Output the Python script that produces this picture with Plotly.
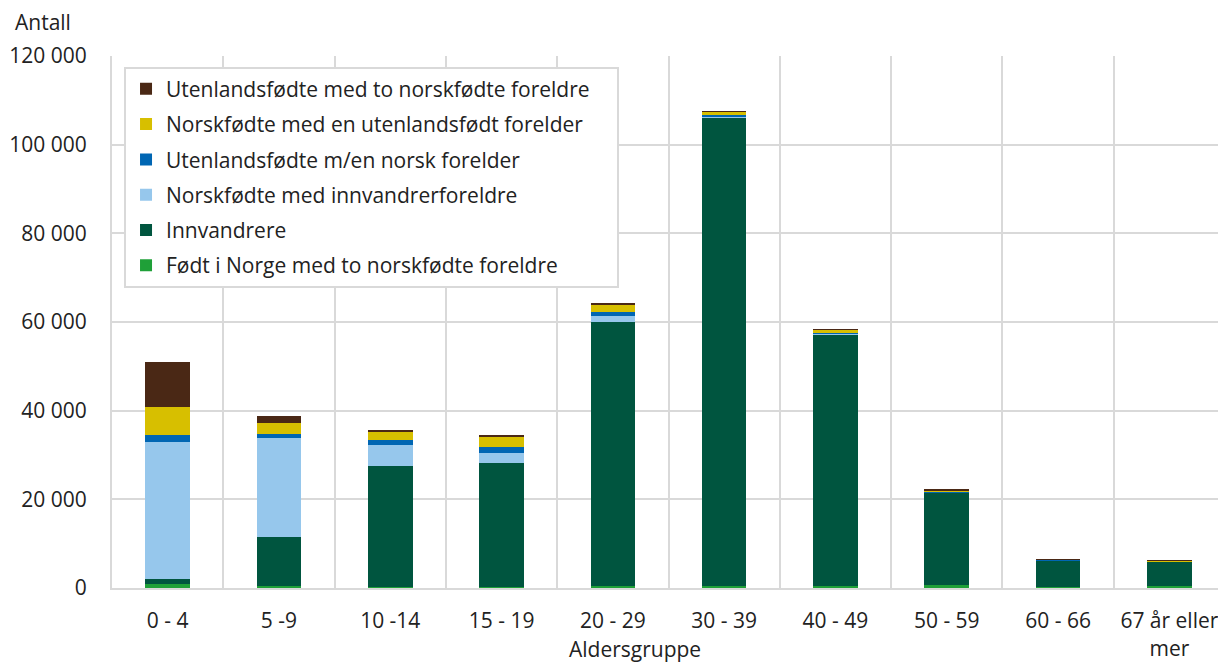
import plotly.graph_objects as go

categories = ["0 - 4", "5 -9", "10 -14", "15 - 19", "20 - 29", "30 - 39",
              "40 - 49", "50 - 59", "60 - 66", "67 år eller<br>mer"]

fodt_norge = [900, 400, 300, 300, 500, 500, 400, 600, 200, 500]
innvandrere = [1100, 11100, 27300, 27800, 59500, 105700, 56800, 20900, 5900, 5400]
norskf_innv = [31000, 22300, 4700, 2400, 1400, 200, 200, 150, 150, 50]
utenl_en_norsk = [1400, 1000, 1100, 1200, 900, 300, 200, 150, 100, 50]
norskf_en_utenl = [6500, 2400, 1800, 2500, 1600, 700, 600, 300, 100, 100]
utenl_to_norsk = [10000, 1600, 300, 300, 200, 100, 100, 50, 50, 150]

series = [
    ("Født i Norge med to norskfødte foreldre", fodt_norge, "#1fa038"),
    ("Innvandrere", innvandrere, "#00553f"),
    ("Norskfødte med innvandrerforeldre", norskf_innv, "#96c7ec"),
    ("Utenlandsfødte m/en norsk forelder", utenl_en_norsk, "#0066b3"),
    ("Norskfødte med en utenlandsfødt forelder", norskf_en_utenl, "#d7bf00"),
    ("Utenlandsfødte med to norskfødte foreldre", utenl_to_norsk, "#4a2815"),
]

FONT = "Open Sans"
FS = 21
TXT = "#222222"
GRID = "#d9d9d9"
PAD = "\u00a0" * 4  # extra right padding inside the legend box
xpos = list(range(len(categories)))

fig = go.Figure()
n = len(series)
for i, (name, vals, col) in enumerate(series):
    fig.add_trace(go.Bar(
        x=xpos, y=vals, name=name + (PAD if i == n - 1 else ""), width=0.4,
        marker=dict(color=col, line=dict(width=0)),
        legendgroup=f"g{i}", legendrank=n - i,
    ))

# page body has an 8px margin, so the figure is sized/offset accordingly
fig.update_layout(
    barmode="stack",
    width=1218, height=655,
    margin=dict(l=104, r=1, t=48, b=75),
    plot_bgcolor="white", paper_bgcolor="white",
    font=dict(family=FONT, size=FS, color=TXT),
    separators=", ",
    showlegend=True,
    legend=dict(
        x=0.0108, y=0.98, xanchor="left", yanchor="top",
        traceorder="grouped", tracegroupgap=5,
        bgcolor="white", bordercolor=GRID, borderwidth=2,
        font=dict(family=FONT, size=FS, color=TXT),
    ),
    xaxis=dict(
        range=[-0.5, len(categories) - 0.5],
        tickmode="array", tickvals=xpos, ticktext=categories,
        showgrid=False, zeroline=False, automargin=False,
        showline=True, linecolor=GRID, linewidth=2,
        ticks="", ticklabelstandoff=13,
        minor=dict(tick0=0.5, dtick=1, showgrid=True, gridcolor=GRID, gridwidth=2),
    ),
    yaxis=dict(
        range=[0, 120000], tickvals=[0, 20000, 40000, 60000, 80000, 100000, 120000],
        tickformat=",d", automargin=False,
        showgrid=True, gridcolor=GRID, gridwidth=2,
        zeroline=False, showline=True, linecolor=GRID, linewidth=2,
        ticks="", ticklabelstandoff=19,
    ),
    annotations=[
        dict(text="Antall", xref="paper", yref="paper", x=-0.0889, y=1.064,
             xanchor="left", yanchor="middle", showarrow=False,
             font=dict(family=FONT, size=FS, color=TXT)),
        dict(text="Aldersgruppe", xref="paper", yref="paper", x=0.4695, y=-0.114,
             xanchor="center", yanchor="middle", showarrow=False,
             font=dict(family=FONT, size=FS, color=TXT)),
    ],
)

fig.write_html("out.html")
